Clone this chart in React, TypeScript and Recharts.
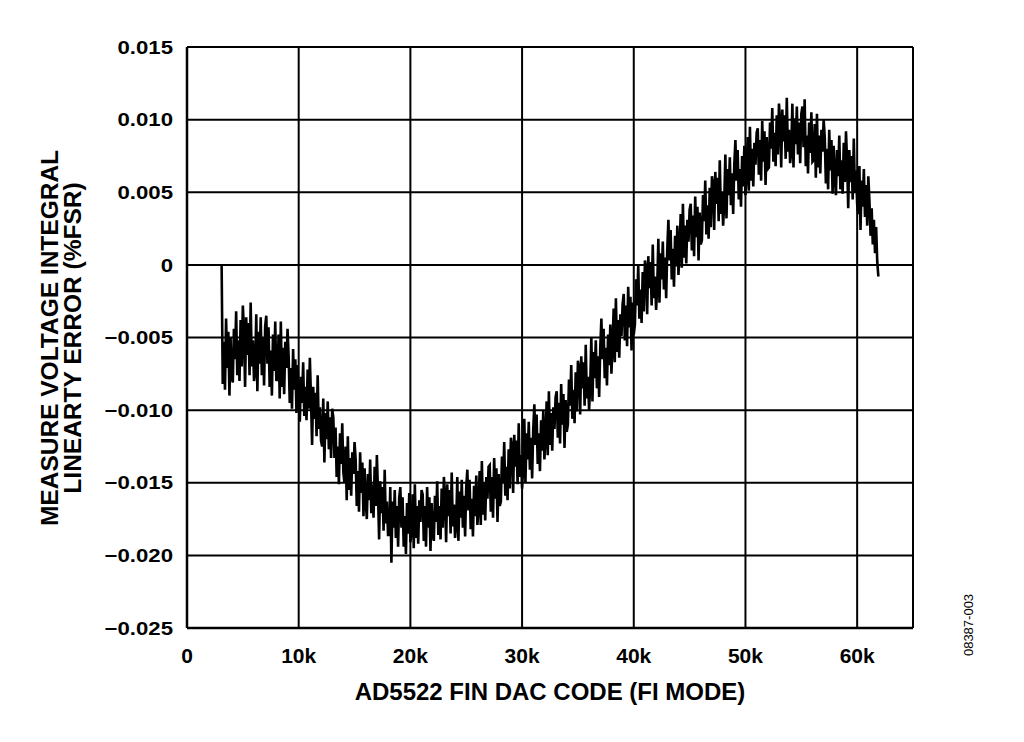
import { LineChart, Line, XAxis, YAxis, CartesianGrid } from 'recharts'

// DAC codes are sampled every 100 codes from 3100 up to 61900
const START_CODE = 3100
const CODE_STEP = 100

const INL_E4 = [
  0, -82, -53, -86, -37, -71, -46, -90, -50, -77,
  -81, -44, -65, -32, -76, -52, -80, -38, -70, -28,
  -45, -84, -36, -62, -40, -76, -26, -70, -52, -80,
  -74, -34, -87, -46, -68, -36, -76, -50, -83, -42,
  -35, -68, -43, -84, -59, -90, -48, -73, -39, -80,
  -78, -48, -92, -39, -84, -57, -89, -53, -71, -44,
  -63, -95, -71, -99, -58, -86, -65, -102, -69, -91,
  -108, -77, -95, -67, -104, -84, -107, -72, -99, -64,
  -92, -124, -84, -106, -88, -118, -76, -113, -98, -121,
  -125, -92, -136, -102, -120, -94, -127, -105, -133, -99,
  -105, -133, -112, -146, -125, -151, -116, -137, -109, -143,
  -150, -125, -162, -118, -155, -133, -159, -129, -144, -122,
  -134, -166, -142, -170, -129, -157, -136, -173, -140, -162,
  -175, -144, -162, -134, -171, -151, -174, -139, -166, -131,
  -157, -189, -149, -171, -153, -183, -141, -178, -163, -186,
  -186, -153, -205, -163, -181, -155, -188, -166, -194, -160,
  -153, -181, -160, -194, -173, -199, -164, -185, -157, -191,
  -183, -158, -195, -151, -188, -166, -192, -162, -177, -155,
  -158, -190, -166, -194, -153, -181, -160, -197, -164, -186,
  -190, -159, -177, -149, -186, -166, -189, -154, -181, -146,
  -159, -191, -151, -173, -155, -185, -143, -180, -165, -188,
  -179, -146, -190, -156, -174, -148, -181, -159, -187, -153,
  -141, -169, -148, -182, -161, -187, -152, -173, -145, -179,
  -167, -142, -179, -135, -172, -150, -176, -146, -161, -139,
  -138, -170, -146, -174, -133, -161, -140, -177, -144, -166,
  -163, -132, -150, -122, -159, -139, -162, -127, -154, -119,
  -125, -157, -117, -139, -121, -151, -109, -146, -131, -154,
  -139, -106, -150, -116, -134, -108, -141, -119, -147, -113,
  -96, -124, -103, -137, -116, -142, -107, -128, -100, -134,
  -119, -94, -131, -87, -124, -102, -128, -98, -113, -91,
  -87, -119, -95, -123, -82, -110, -89, -126, -93, -115,
  -110, -79, -97, -69, -106, -86, -109, -74, -101, -66,
  -71, -103, -63, -85, -67, -97, -55, -92, -77, -100,
  -83, -50, -94, -60, -78, -52, -85, -63, -91, -57,
  -37, -65, -44, -78, -57, -83, -48, -69, -41, -75,
  -55, -30, -67, -23, -60, -38, -64, -34, -49, -27,
  -20, -52, -28, -56, -15, -43, -22, -59, -26, -48,
  -41, -10, -28, 0, -37, -17, -40, -5, -32, 3,
  -2, -34, 6, -16, 2, -28, 14, -23, -8, -31,
  -15, 18, -26, 8, -10, 16, -17, 5, -23, 11,
  31, 3, 24, -10, 11, -15, 20, -1, 27, -7,
  10, 35, -2, 42, 5, 27, 1, 31, 16, 38,
  42, 10, 34, 6, 47, 19, 40, 3, 36, 14,
  17, 48, 30, 58, 21, 41, 18, 53, 26, 61,
  56, 24, 64, 42, 60, 30, 72, 35, 50, 27,
  43, 76, 32, 66, 48, 74, 41, 63, 35, 69,
  86, 58, 79, 45, 66, 40, 75, 54, 82, 48,
  63, 88, 51, 95, 58, 80, 54, 84, 69, 91,
  94, 62, 86, 58, 99, 71, 92, 55, 88, 66,
  67, 98, 80, 108, 71, 91, 68, 103, 76, 111,
  99, 67, 107, 85, 103, 73, 115, 78, 93, 70,
  78, 111, 67, 101, 83, 109, 76, 98, 70, 104,
  109, 81, 114, 68, 89, 63, 98, 77, 105, 71,
  72, 97, 60, 104, 67, 89, 63, 93, 78, 100,
  88, 56, 80, 52, 93, 65, 86, 49, 82, 60,
  48, 79, 61, 89, 52, 72, 49, 84, 57, 92,
  71, 39, 79, 57, 75, 45, 87, 50, 65, 42,
  35, 68, 24, 58, 40, 66, 33, 55, 27, 61,
  44, 20, 39, 14, 31, 8, 26, 2, -8,
]

const X_TICKS = [0, 10000, 20000, 30000, 40000, 50000, 60000, 65000]
const X_TICK_LABELS = ['0', '10k', '20k', '30k', '40k', '50k', '60k', '']
const Y_TICKS = [-0.025, -0.02, -0.015, -0.01, -0.005, 0, 0.005, 0.01, 0.015]
const Y_TICK_LABELS = ['\u22120.025', '\u22120.020', '\u22120.015', '\u22120.010', '\u22120.005', '0', '0.005', '0.010', '0.015']

const X_TITLE = 'AD5522 FIN DAC CODE (FI MODE)'
const Y_TITLE = ['MEASURE VOLTAGE INTEGRAL', 'LINEARTY ERROR (%FSR)']
const FIG_ID = '08387-003'

const data = INL_E4.map((v, i) => ({ code: START_CODE + i * CODE_STEP, inl: v / 10000 }))

const FONT = 'Liberation Sans, Arial, Helvetica, sans-serif'

function XTick(props: any) {
  const { x, y, payload } = props
  const idx = X_TICKS.indexOf(payload.value)
  return (
    <text x={x} y={y} dy="0.71em" textAnchor="middle" fontFamily={FONT} fontWeight="bold" fontSize={21} fill="#000">
      {X_TICK_LABELS[idx]}
    </text>
  )
}

function YTick(props: any) {
  const { x, y, payload } = props
  const idx = Y_TICKS.findIndex((t) => Math.abs(t - payload.value) < 1e-9)
  return (
    <g transform={`translate(${x},${y}) scale(1.2,1)`}>
      <text x={0} y={0} dy="0.36em" textAnchor="end" fontFamily={FONT} fontWeight="bold" fontSize={18.5} fill="#000">
        {Y_TICK_LABELS[idx]}
      </text>
    </g>
  )
}

export default function App() {
  return (
    <div style={{ position: 'absolute', left: 0, top: 0, width: 1024, height: 742, background: '#fff' }}>
      <LineChart width={1024} height={742} data={data} margin={{ top: 47, right: 111, bottom: 0, left: 0 }}>
        <CartesianGrid stroke="#000" strokeWidth={2} />
        <XAxis
          dataKey="code"
          type="number"
          domain={[0, 65000]}
          ticks={X_TICKS}
          tick={<XTick />}
          tickLine={false}
          tickSize={0}
          tickMargin={20}
          axisLine={{ stroke: '#000', strokeWidth: 2.5 }}
          height={114}
          interval={0}
          label={{
            value: X_TITLE,
            position: 'insideBottom',
            offset: 42,
            style: { fontFamily: FONT, fontWeight: 'bold', fontSize: 24, fill: '#000' },
          }}
        />
        <YAxis
          type="number"
          domain={[-0.025, 0.015]}
          ticks={Y_TICKS}
          tick={<YTick />}
          tickLine={false}
          tickSize={0}
          tickMargin={14}
          axisLine={{ stroke: '#000', strokeWidth: 2.5 }}
          width={187}
          interval={0}
          label={{
            content: () => (
              <g transform="translate(0,338) rotate(-90)">
                <text x={0} y={58} textAnchor="middle" fontFamily={FONT} fontWeight="bold" fontSize={24.5} fill="#000">
                  {Y_TITLE[0]}
                </text>
                <text x={0} y={81} textAnchor="middle" fontFamily={FONT} fontWeight="bold" fontSize={24.5} fill="#000">
                  {Y_TITLE[1]}
                </text>
              </g>
            ),
          }}
        />
        <Line
          type="linear"
          dataKey="inl"
          stroke="#000"
          strokeWidth={2.6}
          dot={false}
          activeDot={false}
          isAnimationActive={false}
        />
      </LineChart>
      <svg width={40} height={742} style={{ position: 'absolute', left: 950, top: 0 }}>
        <text
          transform="translate(23,625) rotate(-90)"
          textAnchor="middle"
          fontFamily={FONT}
          fontSize={13}
          fill="#000"
        >
          {FIG_ID}
        </text>
      </svg>
    </div>
  )
}
